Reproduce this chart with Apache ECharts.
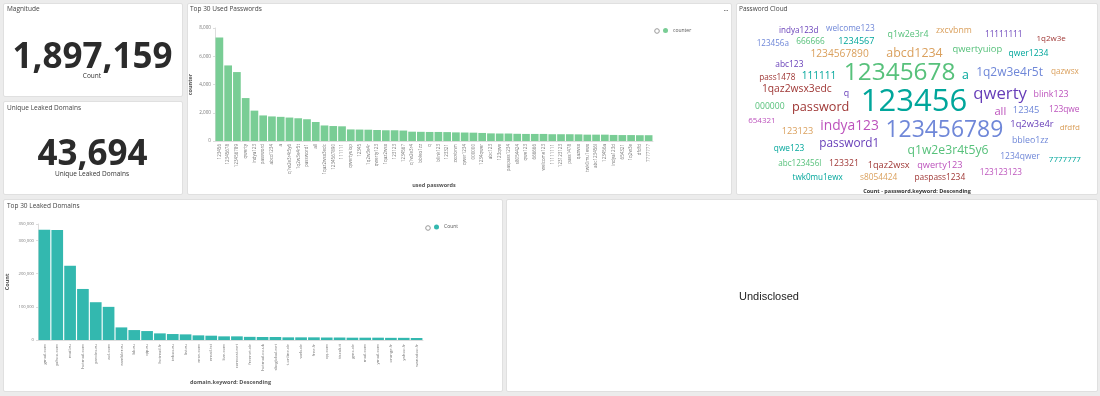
<!DOCTYPE html>
<html>
<head>
<meta charset="utf-8">
<script src="https://cdn.jsdelivr.net/npm/echarts@6/dist/echarts.min.js"></script>
<style>
    html, body { margin: 0; padding: 0; background: #ececec; }
    #wrap { position: relative; width: 1100px; height: 396px; overflow: hidden; }
    .panel { position: absolute; background: #fff; border: 1px solid #e0e0e0; border-radius: 2px; box-sizing: border-box; }
    #main { position: absolute; left: 0; top: 0; width: 1100px; height: 396px; }
</style>
</head>
<body>
<div id="wrap">
    <div class="panel" style="left:3px;top:3px;width:180px;height:94px"></div>
    <div class="panel" style="left:3px;top:101px;width:180px;height:94px"></div>
    <div class="panel" style="left:187px;top:3px;width:545px;height:192px"></div>
    <div class="panel" style="left:736px;top:3px;width:362px;height:192px"></div>
    <div class="panel" style="left:3px;top:199px;width:500px;height:193px"></div>
    <div class="panel" style="left:506px;top:199px;width:592px;height:193px"></div>
    <div id="main"></div>
</div>
<script>
    // metrics
    const magnitude = 1897159;
    const uniqueDomains = 43694;

    // top passwords (bar chart + cloud)
    const passwords = ['123456', '12345678', '123456789', 'qwerty', 'indya123', 'password', 'abcd1234', 'a',
        'q1w2e3r4t5y6', '1q2w3e4r5t', 'password1', 'all', '1qaz2wsx3edc', '1234567890', '111111', 'qwertyuiop',
        '12345', '1q2w3e4r', 'qwerty123', '1qaz2wsx', '123123', '1234567', 'q1w2e3r4', 'bbleo1zz', 'q',
        'blink123', '123321', 'zxcvbnm', 'qwer1234', '000000', '1234qwer', 'abc123', '123qwe', 'paspass1234',
        's8054424', 'qwe123', '666666', 'welcome123', '11111111', '123123123', 'pass1478', 'qazwsx',
        'twk0mu1ewx', 'abc123456l', '123456a', 'indya123d', '654321', '1q2w3e', 'dfdfd', '7777777'];
    const passwordCounts = [7330, 5350, 4880, 3040, 2150, 1810, 1740, 1710,
        1660, 1610, 1540, 1345, 1100, 1060, 1040, 820,
        810, 800, 780, 760, 760, 740, 660, 650, 640,
        640, 630, 610, 600, 590, 570, 540, 530, 530,
        510, 500, 500, 500, 480, 480, 480, 470,
        450, 450, 450, 430, 420, 420, 410, 410];

    // top domains
    const domains = ['gmail.com', 'yahoo.com', 'mail.ru', 'hotmail.com', 'yandex.ru', 'aol.com', 'rambler.ru',
        'bk.ru', 'qip.ru', 'hotmail.fr', 'inbox.ru', 'list.ru', 'msn.com', 'email.tst', 'live.com',
        'comcast.net', 'freenet.de', 'hotmail.co.uk', 'sbcglobal.net', 't-online.de', 'web.de', 'free.fr',
        'qq.com', 'tiscali.it', 'gmx.de', 'mail.com', 'ymail.com', 'orange.fr', 'yahoo.fr', 'wanadoo.fr'];
    const domainCounts = [333000, 332000, 224000, 154000, 114000, 100000, 38000,
        30000, 27000, 20000, 18000, 17000, 14000, 13000, 11000,
        11000, 9500, 9000, 9000, 8000, 8000, 8000,
        7500, 7500, 7000, 7000, 7000, 6500, 6500, 6000];

    const passwordTicks = [0, 2000, 4000, 6000, 8000];
    const domainTicks = [0, 100000, 200000, 300000];

    const FONT = '"Open Sans", sans-serif';
    const cloudPalette = ['#00a69b', '#57c17b', '#6f87d8', '#663db8', '#bc52bc', '#9e3533', '#daa05d'];
    const fmt = v => Number(v).toLocaleString('en-US');

    function txt(x, y, text, font, fill, align) {
        return {
            type: 'text', x: x, y: y, silent: true,
            style: {
                text: text, font: font, fill: fill || '#444',
                textAlign: align || 'left', align: align || 'left',
                textVerticalAlign: 'middle', verticalAlign: 'middle'
            }
        };
    }

    function gear(cx, cy) {
        return {type: 'circle', silent: true, shape: {cx: cx, cy: cy, r: 2.3},
            style: {fill: '#fff', stroke: '#999', lineWidth: 1}};
    }

    // simple spiral word cloud, words in count order
    function layoutCloud() {
        const ctx = document.createElement('canvas').getContext('2d');
        const lo = Math.min(...passwordCounts), hi = Math.max(...passwordCounts);
        const cx = 914, cy = 102, ratio = 2;
        const bx0 = 745, bx1 = 1090, by0 = 20, by1 = 186;
        const pads = [[6, 4], [3, 2], [1, 1]];
        const boxes = [];
        const out = [];
        const hit = b => boxes.some(o => b.x0 < o.x1 && b.x1 > o.x0 && b.y0 < o.y1 && b.y1 > o.y0);
        passwords.forEach((word, i) => {
            const size = 8 + (passwordCounts[i] - lo) / (hi - lo) * 23;
            ctx.font = size + 'px ' + FONT;
            const tw = ctx.measureText(word).width;
            const th = size * 0.86;
            let pos = null;
            for (let p = 0; p <= pads.length && !pos; p++) {
                const pad = pads[Math.min(p, pads.length - 1)];
                const w = tw + pad[0], h = th + pad[1];
                const bounded = p < pads.length;
                for (let s = 0; s < 30000; s++) {
                    const t = s * 0.1;
                    const x = cx + ratio * t * Math.cos(t), y = cy + t * Math.sin(t);
                    const b = {x0: x - w / 2, x1: x + w / 2, y0: y - h / 2, y1: y + h / 2};
                    if (bounded && (b.x0 < bx0 || b.x1 > bx1 || b.y0 < by0 || b.y1 > by1)) continue;
                    if (hit(b)) continue;
                    boxes.push(b);
                    pos = [x, y];
                    break;
                }
            }
            out.push(txt(pos[0], pos[1], word, size.toFixed(1) + 'px ' + FONT, cloudPalette[i % 7], 'center'));
        });
        return out;
    }

    let chart = echarts.init(document.getElementById('main'));
    chart.setOption({
        backgroundColor: 'transparent',
        animation: false,
        textStyle: {fontFamily: FONT},
        legend: [
            {
                data: ['counter'], left: 663, top: 28, padding: 0, icon: 'circle',
                itemWidth: 5, itemHeight: 5, textStyle: {fontSize: 5, color: '#555'}
            },
            {
                data: ['Count'], left: 434, top: 224.5, padding: 0, icon: 'circle',
                itemWidth: 5, itemHeight: 5, textStyle: {fontSize: 5, color: '#555'}
            }
        ],
        grid: [
            {left: 215, right: 447, top: 28, bottom: 255, containLabel: false},
            {left: 38, right: 677, top: 224, bottom: 56, containLabel: false}
        ],
        xAxis: [
            {
                gridIndex: 0, type: 'category', data: passwords,
                name: 'used passwords', nameLocation: 'middle', nameGap: 41,
                nameTextStyle: {fontSize: 5.5, fontWeight: 'bold', color: '#555'},
                axisLine: {lineStyle: {color: '#ddd'}}, axisTick: {show: false},
                axisLabel: {interval: 0, rotate: 90, fontSize: 4.5, color: '#777', margin: 3}
            },
            {
                gridIndex: 1, type: 'category', data: domains,
                name: 'domain.keyword: Descending', nameLocation: 'middle', nameGap: 39,
                nameTextStyle: {fontSize: 5.5, fontWeight: 'bold', color: '#555'},
                axisLine: {lineStyle: {color: '#ddd'}}, axisTick: {show: false},
                axisLabel: {interval: 0, rotate: 90, fontSize: 4.3, color: '#777', margin: 4}
            }
        ],
        yAxis: [
            {
                gridIndex: 0, type: 'value', min: passwordTicks[0], max: passwordTicks[passwordTicks.length - 1],
                interval: passwordTicks[1] - passwordTicks[0],
                name: 'counter', nameLocation: 'middle', nameGap: 22,
                nameTextStyle: {fontSize: 5.5, fontWeight: 'bold', color: '#555'},
                axisLine: {show: true, lineStyle: {color: '#ddd'}},
                axisTick: {show: true, length: 2, lineStyle: {color: '#ddd'}},
                splitLine: {show: false},
                axisLabel: {fontSize: 4.6, color: '#777', margin: 4, formatter: fmt}
            },
            {
                gridIndex: 1, type: 'value', min: domainTicks[0], max: 350000,
                interval: domainTicks[1] - domainTicks[0],
                name: 'Count', nameLocation: 'middle', nameGap: 28,
                nameTextStyle: {fontSize: 5.5, fontWeight: 'bold', color: '#555'},
                axisLine: {show: true, lineStyle: {color: '#ddd'}},
                axisTick: {show: true, length: 2, lineStyle: {color: '#ddd'}},
                splitLine: {show: false},
                axisLabel: {fontSize: 4.2, color: '#777', margin: 4, formatter: fmt}
            }
        ],
        series: [
            {
                name: 'counter', type: 'bar', xAxisIndex: 0, yAxisIndex: 0,
                data: passwordCounts, barCategoryGap: '12%',
                itemStyle: {color: '#79cd95'}
            },
            {
                name: 'Count', type: 'bar', xAxisIndex: 1, yAxisIndex: 1,
                data: domainCounts, barCategoryGap: '9%',
                itemStyle: {color: '#33b8af'}
            }
        ],
        graphic: {
            elements: [
                // panel titles
                txt(7, 9.5, 'Magnitude', '6.5px ' + FONT, '#444'),
                txt(7, 108, 'Unique Leaked Domains', '6.5px ' + FONT, '#444'),
                txt(190, 9.5, 'Top 30 Used Passwords', '6.5px ' + FONT, '#444'),
                txt(739, 9.5, 'Password Cloud', '6.5px ' + FONT, '#444'),
                txt(7, 206, 'Top 30 Leaked Domains', '6.5px ' + FONT, '#444'),
                txt(726, 11, '•••', '4px ' + FONT, '#555', 'center'),
                // metrics
                txt(92.5, 58, fmt(magnitude), 'bold 35px ' + FONT, '#2b2b2b', 'center'),
                txt(92, 76, 'Count', '6.5px ' + FONT, '#333', 'center'),
                txt(92.5, 155, fmt(uniqueDomains), 'bold 35px ' + FONT, '#2b2b2b', 'center'),
                txt(92, 174, 'Unique Leaked Domains', '6.5px ' + FONT, '#333', 'center'),
                // legend toggles
                gear(657, 31),
                gear(428, 228),
                // cloud caption
                txt(917, 191.5, 'Count - password.keyword: Descending', 'bold 5.5px ' + FONT, '#333', 'center'),
                // hidden panel
                txt(769, 297, 'Undisclosed', '11px "Liberation Sans", Arial, sans-serif', '#222', 'center')
            ].concat(layoutCloud())
        }
    });
</script>
</body>
</html>
